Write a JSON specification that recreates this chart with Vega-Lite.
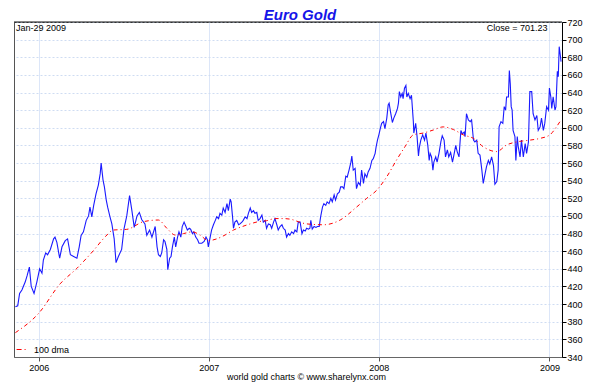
{
  "$schema": "https://vega.github.io/schema/vega-lite/v6.json",
  "width": 548,
  "height": 335,
  "autosize": {"type": "none"},
  "padding": {"left": 14, "top": 22, "right": 38, "bottom": 33},
  "background": "#ffffff",
  "config": {
    "font": "Liberation Sans",
    "view": {"stroke": "#555555", "strokeWidth": 1}
  },
  "title": {
    "text": "Euro Gold",
    "font": "Liberation Sans",
    "fontSize": 15,
    "fontWeight": "bold",
    "fontStyle": "italic",
    "color": "#1515e8",
    "anchor": "middle",
    "baseline": "alphabetic",
    "offset": -17,
    "dx": 12
  },
  "datasets": {
    "close": [
      {"date":"2005-11-12","value":397},{"date":"2005-11-17","value":398},{"date":"2005-11-21","value":412},{"date":"2005-11-26","value":416},{"date":"2005-11-29","value":420},{"date":"2005-12-03","value":425},{"date":"2005-12-07","value":432},{"date":"2005-12-12","value":442},{"date":"2005-12-16","value":420},{"date":"2005-12-22","value":412},{"date":"2005-12-28","value":425},
      {"date":"2006-01-03","value":440},{"date":"2006-01-08","value":435},{"date":"2006-01-11","value":450},{"date":"2006-01-16","value":458},{"date":"2006-01-20","value":456},{"date":"2006-01-26","value":462},{"date":"2006-02-02","value":474},{"date":"2006-02-05","value":476},{"date":"2006-02-09","value":470},{"date":"2006-02-15","value":452},{"date":"2006-02-20","value":465},{"date":"2006-02-27","value":472},{"date":"2006-03-04","value":474},{"date":"2006-03-10","value":456},{"date":"2006-03-17","value":454},{"date":"2006-03-24","value":452},{"date":"2006-03-29","value":465},{"date":"2006-04-02","value":478},{"date":"2006-04-07","value":482},{"date":"2006-04-13","value":495},{"date":"2006-04-18","value":500},{"date":"2006-04-21","value":510},{"date":"2006-04-25","value":499},{"date":"2006-04-29","value":512},{"date":"2006-05-04","value":525},{"date":"2006-05-09","value":535},{"date":"2006-05-13","value":548},{"date":"2006-05-15","value":560},{"date":"2006-05-19","value":541},{"date":"2006-05-22","value":533},{"date":"2006-05-26","value":518},{"date":"2006-05-29","value":510},{"date":"2006-06-03","value":499},{"date":"2006-06-07","value":491},{"date":"2006-06-12","value":474},{"date":"2006-06-16","value":447},{"date":"2006-06-21","value":454},{"date":"2006-06-28","value":462},{"date":"2006-07-03","value":485},{"date":"2006-07-09","value":500},{"date":"2006-07-15","value":523},{"date":"2006-07-20","value":506},{"date":"2006-07-25","value":487},{"date":"2006-07-31","value":500},{"date":"2006-08-05","value":504},{"date":"2006-08-10","value":496},{"date":"2006-08-17","value":491},{"date":"2006-08-21","value":478},{"date":"2006-08-27","value":484},{"date":"2006-09-01","value":476},{"date":"2006-09-08","value":488},{"date":"2006-09-12","value":465},{"date":"2006-09-15","value":456},{"date":"2006-09-19","value":454},{"date":"2006-09-22","value":458},{"date":"2006-09-26","value":473},{"date":"2006-09-29","value":471},{"date":"2006-10-03","value":462},{"date":"2006-10-05","value":439},{"date":"2006-10-09","value":452},{"date":"2006-10-12","value":454},{"date":"2006-10-15","value":465},{"date":"2006-10-19","value":476},{"date":"2006-10-22","value":465},{"date":"2006-10-26","value":476},{"date":"2006-10-29","value":482},{"date":"2006-11-02","value":476},{"date":"2006-11-05","value":488},{"date":"2006-11-09","value":493},{"date":"2006-11-13","value":488},{"date":"2006-11-16","value":484},{"date":"2006-11-20","value":486},{"date":"2006-11-23","value":485},{"date":"2006-11-27","value":480},{"date":"2006-11-30","value":482},{"date":"2006-12-04","value":476},{"date":"2006-12-08","value":473},{"date":"2006-12-11","value":469},{"date":"2006-12-17","value":469},{"date":"2006-12-22","value":471},{"date":"2006-12-26","value":476},{"date":"2006-12-29","value":473},{"date":"2006-12-31","value":465},
      {"date":"2007-01-04","value":476},{"date":"2007-01-07","value":484},{"date":"2007-01-11","value":490},{"date":"2007-01-15","value":495},{"date":"2007-01-18","value":499},{"date":"2007-01-22","value":497},{"date":"2007-01-25","value":503},{"date":"2007-01-29","value":501},{"date":"2007-02-01","value":509},{"date":"2007-02-05","value":504},{"date":"2007-02-09","value":514},{"date":"2007-02-12","value":506},{"date":"2007-02-16","value":519},{"date":"2007-02-18","value":516},{"date":"2007-02-21","value":499},{"date":"2007-02-23","value":486},{"date":"2007-02-26","value":493},{"date":"2007-03-02","value":495},{"date":"2007-03-06","value":490},{"date":"2007-03-09","value":491},{"date":"2007-03-13","value":493},{"date":"2007-03-16","value":495},{"date":"2007-03-20","value":499},{"date":"2007-03-24","value":497},{"date":"2007-03-27","value":503},{"date":"2007-03-31","value":509},{"date":"2007-04-03","value":504},{"date":"2007-04-07","value":506},{"date":"2007-04-10","value":503},{"date":"2007-04-14","value":504},{"date":"2007-04-17","value":495},{"date":"2007-04-21","value":497},{"date":"2007-04-25","value":501},{"date":"2007-04-28","value":493},{"date":"2007-05-02","value":495},{"date":"2007-05-05","value":486},{"date":"2007-05-09","value":491},{"date":"2007-05-13","value":490},{"date":"2007-05-16","value":486},{"date":"2007-05-20","value":493},{"date":"2007-05-23","value":497},{"date":"2007-05-27","value":490},{"date":"2007-05-30","value":484},{"date":"2007-06-03","value":488},{"date":"2007-06-07","value":490},{"date":"2007-06-10","value":486},{"date":"2007-06-14","value":484},{"date":"2007-06-17","value":476},{"date":"2007-06-21","value":480},{"date":"2007-06-24","value":478},{"date":"2007-06-28","value":482},{"date":"2007-07-02","value":480},{"date":"2007-07-05","value":484},{"date":"2007-07-09","value":482},{"date":"2007-07-12","value":493},{"date":"2007-07-16","value":493},{"date":"2007-07-20","value":480},{"date":"2007-07-23","value":484},{"date":"2007-07-27","value":483},{"date":"2007-07-30","value":486},{"date":"2007-08-03","value":485},{"date":"2007-08-06","value":486},{"date":"2007-08-08","value":495},{"date":"2007-08-11","value":485},{"date":"2007-08-15","value":488},{"date":"2007-08-19","value":487},{"date":"2007-08-22","value":488},{"date":"2007-08-26","value":488},{"date":"2007-08-29","value":499},{"date":"2007-09-02","value":510},{"date":"2007-09-05","value":514},{"date":"2007-09-09","value":512},{"date":"2007-09-12","value":516},{"date":"2007-09-16","value":514},{"date":"2007-09-20","value":520},{"date":"2007-09-23","value":516},{"date":"2007-09-27","value":524},{"date":"2007-09-30","value":518},{"date":"2007-10-04","value":525},{"date":"2007-10-08","value":527},{"date":"2007-10-11","value":533},{"date":"2007-10-15","value":533},{"date":"2007-10-18","value":531},{"date":"2007-10-22","value":545},{"date":"2007-10-25","value":544},{"date":"2007-10-29","value":552},{"date":"2007-11-02","value":561},{"date":"2007-11-04","value":568},{"date":"2007-11-07","value":552},{"date":"2007-11-11","value":554},{"date":"2007-11-14","value":531},{"date":"2007-11-18","value":538},{"date":"2007-11-22","value":535},{"date":"2007-11-25","value":552},{"date":"2007-11-29","value":537},{"date":"2007-12-02","value":548},{"date":"2007-12-06","value":544},{"date":"2007-12-09","value":550},{"date":"2007-12-13","value":554},{"date":"2007-12-17","value":563},{"date":"2007-12-20","value":565},{"date":"2007-12-24","value":571},{"date":"2007-12-26","value":578},{"date":"2007-12-29","value":586},
      {"date":"2008-01-01","value":592},{"date":"2008-01-04","value":599},{"date":"2008-01-07","value":605},{"date":"2008-01-11","value":607},{"date":"2008-01-14","value":599},{"date":"2008-01-18","value":611},{"date":"2008-01-21","value":626},{"date":"2008-01-23","value":628},{"date":"2008-01-26","value":618},{"date":"2008-01-30","value":606},{"date":"2008-02-02","value":611},{"date":"2008-02-06","value":616},{"date":"2008-02-10","value":622},{"date":"2008-02-12","value":628},{"date":"2008-02-14","value":641},{"date":"2008-02-17","value":635},{"date":"2008-02-20","value":639},{"date":"2008-02-22","value":633},{"date":"2008-02-25","value":645},{"date":"2008-02-28","value":648},{"date":"2008-03-01","value":635},{"date":"2008-03-04","value":639},{"date":"2008-03-08","value":633},{"date":"2008-03-11","value":637},{"date":"2008-03-15","value":607},{"date":"2008-03-16","value":594},{"date":"2008-03-20","value":605},{"date":"2008-03-23","value":590},{"date":"2008-03-26","value":568},{"date":"2008-03-28","value":578},{"date":"2008-03-31","value":586},{"date":"2008-04-04","value":592},{"date":"2008-04-08","value":586},{"date":"2008-04-11","value":594},{"date":"2008-04-15","value":580},{"date":"2008-04-18","value":563},{"date":"2008-04-20","value":571},{"date":"2008-04-23","value":567},{"date":"2008-04-26","value":552},{"date":"2008-04-28","value":561},{"date":"2008-05-02","value":567},{"date":"2008-05-05","value":561},{"date":"2008-05-09","value":571},{"date":"2008-05-13","value":584},{"date":"2008-05-16","value":591},{"date":"2008-05-20","value":586},{"date":"2008-05-23","value":567},{"date":"2008-05-27","value":575},{"date":"2008-05-30","value":567},{"date":"2008-06-03","value":572},{"date":"2008-06-07","value":561},{"date":"2008-06-10","value":569},{"date":"2008-06-14","value":580},{"date":"2008-06-17","value":573},{"date":"2008-06-21","value":567},{"date":"2008-06-25","value":597},{"date":"2008-06-28","value":593},{"date":"2008-07-02","value":595},{"date":"2008-07-04","value":590},{"date":"2008-07-07","value":616},{"date":"2008-07-11","value":609},{"date":"2008-07-15","value":607},{"date":"2008-07-18","value":609},{"date":"2008-07-22","value":586},{"date":"2008-07-25","value":584},{"date":"2008-07-29","value":586},{"date":"2008-08-01","value":571},{"date":"2008-08-05","value":569},{"date":"2008-08-09","value":552},{"date":"2008-08-12","value":537},{"date":"2008-08-16","value":548},{"date":"2008-08-19","value":556},{"date":"2008-08-23","value":563},{"date":"2008-08-26","value":559},{"date":"2008-08-30","value":567},{"date":"2008-09-03","value":557},{"date":"2008-09-06","value":536},{"date":"2008-09-10","value":539},{"date":"2008-09-13","value":552},{"date":"2008-09-15","value":601},{"date":"2008-09-19","value":607},{"date":"2008-09-23","value":605},{"date":"2008-09-26","value":624},{"date":"2008-09-29","value":620},{"date":"2008-10-01","value":635},{"date":"2008-10-05","value":635},{"date":"2008-10-07","value":665},{"date":"2008-10-09","value":650},{"date":"2008-10-11","value":624},{"date":"2008-10-13","value":620},{"date":"2008-10-15","value":597},{"date":"2008-10-19","value":590},{"date":"2008-10-21","value":563},{"date":"2008-10-24","value":590},{"date":"2008-10-26","value":579},{"date":"2008-10-30","value":567},{"date":"2008-11-02","value":586},{"date":"2008-11-06","value":567},{"date":"2008-11-10","value":582},{"date":"2008-11-13","value":571},{"date":"2008-11-17","value":584},{"date":"2008-11-20","value":641},{"date":"2008-11-24","value":641},{"date":"2008-11-27","value":616},{"date":"2008-12-01","value":609},{"date":"2008-12-05","value":614},{"date":"2008-12-08","value":597},{"date":"2008-12-12","value":601},{"date":"2008-12-15","value":611},{"date":"2008-12-19","value":597},{"date":"2008-12-22","value":605},{"date":"2008-12-26","value":624},{"date":"2008-12-30","value":620},
      {"date":"2009-01-01","value":645},{"date":"2009-01-04","value":635},{"date":"2009-01-06","value":622},{"date":"2009-01-09","value":635},{"date":"2009-01-13","value":620},{"date":"2009-01-15","value":624},{"date":"2009-01-18","value":664},{"date":"2009-01-20","value":658},{"date":"2009-01-22","value":692},{"date":"2009-01-24","value":684},{"date":"2009-01-26","value":675}
    ],
    "dma": [
      {"date":"2005-11-12","value":367.6},{"date":"2006-01-01","value":389.6},{"date":"2006-02-16","value":423},{"date":"2006-03-24","value":440.6},{"date":"2006-04-29","value":461},{"date":"2006-05-24","value":476.5},{"date":"2006-06-10","value":484},{"date":"2006-07-09","value":484.8},{"date":"2006-08-14","value":493.5},{"date":"2006-09-15","value":495.4},{"date":"2006-10-03","value":486},{"date":"2006-10-21","value":478.4},{"date":"2006-11-08","value":480},{"date":"2006-11-26","value":482},{"date":"2006-12-13","value":478.4},{"date":"2006-12-31","value":472},{"date":"2007-01-18","value":474},{"date":"2007-02-05","value":478.4},{"date":"2007-02-23","value":484},{"date":"2007-03-13","value":487.8},{"date":"2007-03-31","value":491},{"date":"2007-04-17","value":493.5},{"date":"2007-05-05","value":494.6},{"date":"2007-05-23","value":497},{"date":"2007-06-10","value":497},{"date":"2007-06-28","value":496},{"date":"2007-07-12","value":493.5},{"date":"2007-07-30","value":491},{"date":"2007-09-04","value":490},{"date":"2007-10-10","value":495.4},{"date":"2007-11-14","value":510},{"date":"2007-12-06","value":520},{"date":"2007-12-27","value":529},{"date":"2008-01-18","value":544.5},{"date":"2008-02-08","value":563.5},{"date":"2008-02-26","value":578.5},{"date":"2008-03-15","value":592},{"date":"2008-04-05","value":594},{"date":"2008-04-27","value":597.5},{"date":"2008-05-18","value":601},{"date":"2008-06-09","value":598},{"date":"2008-06-30","value":592},{"date":"2008-07-22","value":588},{"date":"2008-08-12","value":578.5},{"date":"2008-09-10","value":573},{"date":"2008-10-01","value":580.5},{"date":"2008-10-23","value":584},{"date":"2008-11-20","value":586},{"date":"2008-12-12","value":588},{"date":"2009-01-02","value":592},{"date":"2009-01-16","value":601},{"date":"2009-01-26","value":609}
    ]
  },
  "layer": [
    {
      "data": {"name": "close"},
      "mark": {"type": "line", "color": "#1a1aff", "strokeWidth": 1.1, "interpolate": "linear"},
      "encoding": {
        "x": {
          "field": "date",
          "type": "temporal",
          "scale": {
            "type": "utc",
            "domain": [
              {"year": 2005, "month": 11, "date": 9, "utc": true},
              {"year": 2009, "month": 1, "date": 28, "utc": true}
            ]
          },
          "axis": {
            "title": "world gold charts © www.sharelynx.com",
            "titleFont": "Liberation Sans",
            "titleFontSize": 9,
            "titleFontWeight": "normal",
            "titleColor": "#000000",
            "titleX": 292,
            "titleY": 22,
            "titleAlign": "center",
            "titleBaseline": "alphabetic",
            "values": [
              {"year": 2006, "month": 1, "date": 1, "utc": true},
              {"year": 2007, "month": 1, "date": 1, "utc": true},
              {"year": 2008, "month": 1, "date": 1, "utc": true},
              {"year": 2009, "month": 1, "date": 1, "utc": true}
            ],
            "tickCount": 20,
            "format": "%Y",
            "formatType": "utc",
            "labelFontSize": 9,
            "labelColor": "#000000",
            "labelPadding": 2,
            "labelOverlap": false,
            "tickSize": 4,
            "tickColor": "#555555",
            "domainColor": "#666666",
            "grid": true,
            "gridColor": "#dce6f8",
            "gridWidth": 1,
            "labelFlush": false
          }
        },
        "y": {
          "field": "value",
          "type": "quantitative",
          "scale": {"domain": [340, 720], "zero": false, "nice": false},
          "axis": {
            "title": null,
            "orient": "right",
            "values": [340,360,380,400,420,440,460,480,500,520,540,560,580,600,620,640,660,680,700,720],
            "tickCount": 40,
            "labelFontSize": 9,
            "labelColor": "#000000",
            "labelPadding": 1,
            "labelOverlap": false,
            "labelFlush": false,
            "tickSize": 4,
            "tickColor": "#000000",
            "domainColor": "#000000",
            "grid": true,
            "gridColor": "#cfdcf2",
            "gridDash": [2, 2],
            "gridWidth": 1
          }
        }
      }
    },
    {
      "data": {"name": "dma"},
      "mark": {"type": "line", "strokeWidth": 1, "strokeDash": [4, 3, 1, 3], "interpolate": "monotone"},
      "encoding": {
        "x": {"field": "date", "type": "temporal"},
        "y": {"field": "value", "type": "quantitative"},
        "color": {
          "datum": "100 dma",
          "type": "nominal",
          "scale": {"range": ["#ff0000"]},
          "legend": {
            "title": null,
            "orient": "bottom-left",
            "offset": 2,
            "padding": 0,
            "symbolType": "stroke",
            "symbolDash": [5, 3, 1, 3],
            "symbolStrokeWidth": 1,
            "symbolSize": 140,
            "labelFontSize": 9,
            "labelColor": "#000000",
            "labelOffset": 5
          }
        }
      }
    },
    {
      "data": {"values": [{"label": "top"}]},
      "mark": {"type": "rule", "color": "#111111", "strokeWidth": 1},
      "encoding": {
        "x": {"datum": {"year": 2005, "month": 11, "date": 9, "utc": true}, "type": "temporal"},
        "x2": {"datum": {"year": 2009, "month": 1, "date": 28, "utc": true}},
        "y": {"datum": 720, "type": "quantitative"}
      }
    },
    {
      "data": {"values": [{"label": "Jan-29 2009"}]},
      "mark": {"type": "text", "align": "left", "baseline": "top", "fontSize": 9, "color": "#000000", "dx": 2, "dy": 2},
      "encoding": {
        "x": {"datum": {"year": 2005, "month": 11, "date": 9, "utc": true}, "type": "temporal"},
        "y": {"datum": 720, "type": "quantitative"},
        "text": {"field": "label", "type": "nominal"}
      }
    },
    {
      "data": {"values": [{"label": "Close = 701.23"}]},
      "mark": {"type": "text", "align": "right", "baseline": "top", "fontSize": 9, "color": "#000000", "dy": 2},
      "encoding": {
        "x": {"datum": {"year": 2008, "month": 12, "date": 28, "utc": true}, "type": "temporal"},
        "y": {"datum": 720, "type": "quantitative"},
        "text": {"field": "label", "type": "nominal"}
      }
    }
  ]
}
